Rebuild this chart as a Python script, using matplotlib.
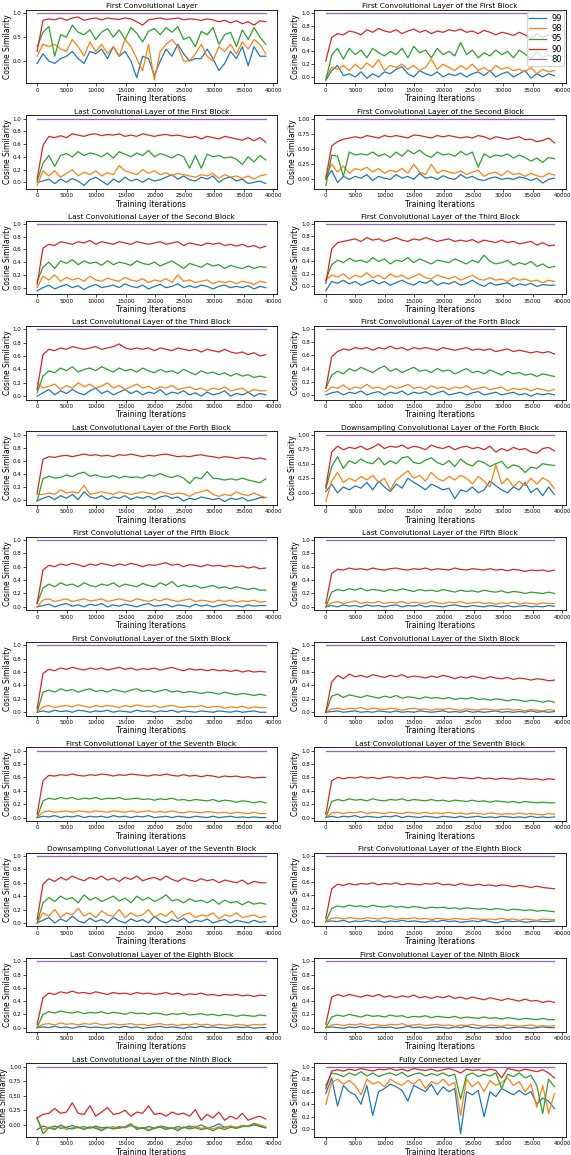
import numpy as np
import matplotlib
matplotlib.use("Agg")
import matplotlib.pyplot as plt
from matplotlib.ticker import MultipleLocator

# training iterations at which similarity was logged
iters = np.linspace(0, 38700, 40)
levels = ["99", "98", "95", "90", "80"]
level_colors = ["#1f77b4", "#ff7f0e", "#2ca02c", "#d62728", "#9467bd"]

# the 80 threshold sits at 1.0 for every layer
sim_80 = [1.0] * 40

titles = [
    "First Convolutional Layer",
    "First Convolutional Layer of the First Block",
    "Last Convolutional Layer of the First Block",
    "First Convolutional Layer of the Second Block",
    "Last Convolutional Layer of the Second Block",
    "First Convolutional Layer of the Third Block",
    "Last Convolutional Layer of the Third Block",
    "First Convolutional Layer of the Forth Block",
    "Last Convolutional Layer of the Forth Block",
    "Downsampling Convolutional Layer of the Forth Block",
    "First Convolutional Layer of the Fifth Block",
    "Last Convolutional Layer of the Fifth Block",
    "First Convolutional Layer of the Sixth Block",
    "Last Convolutional Layer of the Sixth Block",
    "First Convolutional Layer of the Seventh Block",
    "Last Convolutional Layer of the Seventh Block",
    "Downsampling Convolutional Layer of the Seventh Block",
    "First Convolutional Layer of the Eighth Block",
    "Last Convolutional Layer of the Eighth Block",
    "First Convolutional Layer of the Ninth Block",
    "Last Convolutional Layer of the Ninth Block",
    "Fully Connected Layer",
]
# y tick spacing shown on each panel
ytick_steps = [0.5, 0.2, 0.2, 0.25, 0.2, 0.2, 0.2, 0.2, 0.2, 0.25, 0.2,
               0.2, 0.2, 0.2, 0.2, 0.2, 0.2, 0.2, 0.2, 0.2, 0.25, 0.2]

# ---- per layer: 99 / 98 / 95 / 90 ----
p01_99 = [-0.05, 0.15, 0.0, -0.05, 0.05, 0.1, 0.2, 0.05, -0.05, 0.2, 0.15, 0.25, 0.05, 0.3, 0.1, 0.2, 0.0, -0.35, 0.1, 0.05, -0.3, 0.0, 0.25, 0.1, 0.35, 0.15, 0.0, 0.05, 0.05, 0.25, 0.05, -0.2, -0.05, 0.2, 0.05, 0.3, -0.1, 0.3, 0.1, 0.1]
p01_98 = [0.1, 0.35, 0.3, 0.35, 0.25, 0.2, 0.45, 0.3, 0.1, 0.4, 0.2, 0.35, 0.15, 0.3, 0.1, 0.45, 0.3, 0.05, -0.2, 0.35, -0.4, 0.2, 0.35, 0.45, 0.3, 0.0, 0.0, 0.15, 0.35, 0.1, 0.0, 0.3, 0.2, 0.35, 0.15, 0.4, 0.25, 0.45, 0.35, 0.15]
p01_95 = [0.3, 0.6, 0.72, 0.1, 0.55, 0.5, 0.75, 0.6, 0.55, 0.65, 0.45, 0.6, 0.68, 0.5, 0.65, 0.45, 0.7, 0.58, 0.4, 0.62, 0.68, 0.55, 0.7, 0.6, 0.72, 0.45, 0.5, 0.3, 0.62, 0.55, 0.7, 0.35, 0.55, 0.6, 0.3, 0.65, 0.45, 0.7, 0.5, 0.35]
p01_90 = [0.2, 0.85, 0.88, 0.86, 0.9, 0.85, 0.9, 0.92, 0.85, 0.88, 0.9, 0.86, 0.9, 0.88, 0.87, 0.9, 0.88, 0.82, 0.75, 0.86, 0.88, 0.9, 0.87, 0.88, 0.9, 0.86, 0.88, 0.87, 0.85, 0.88, 0.86, 0.82, 0.85, 0.8, 0.84, 0.78, 0.82, 0.75, 0.84, 0.82]

p02_99 = [-0.05, 0.1, 0.18, 0.02, 0.05, 0.0, 0.08, -0.02, 0.05, 0.0, 0.08, 0.05, 0.12, 0.16, 0.05, 0.0, 0.1, 0.05, 0.02, 0.08, 0.0, 0.05, 0.02, 0.06, 0.0, 0.05, 0.08, 0.02, 0.1, 0.0, 0.05, 0.08, 0.0, 0.05, 0.1, -0.02, 0.05, 0.0, 0.05, 0.02]
p02_98 = [0.0, 0.15, 0.12, 0.18, 0.1, 0.2, 0.12, 0.22, 0.15, 0.27, 0.1, 0.18, 0.15, 0.2, 0.12, 0.18, 0.1, 0.15, 0.28, 0.12, 0.2, 0.15, 0.1, 0.18, 0.12, 0.2, 0.1, 0.15, 0.08, 0.18, 0.12, 0.15, 0.1, 0.12, 0.08, 0.15, 0.05, 0.12, 0.08, 0.1]
p02_95 = [-0.05, 0.34, 0.45, 0.28, 0.45, 0.35, 0.42, 0.3, 0.45, 0.38, 0.33, 0.4, 0.35, 0.45, 0.3, 0.48, 0.38, 0.42, 0.3, 0.45, 0.35, 0.4, 0.33, 0.54, 0.35, 0.42, 0.3, 0.38, 0.33, 0.42, 0.35, 0.4, 0.3, 0.42, 0.36, 0.28, 0.4, 0.3, 0.35, 0.3]
p02_90 = [0.25, 0.62, 0.68, 0.66, 0.72, 0.7, 0.66, 0.74, 0.7, 0.76, 0.72, 0.7, 0.74, 0.68, 0.72, 0.75, 0.7, 0.73, 0.68, 0.72, 0.7, 0.74, 0.72, 0.75, 0.7, 0.72, 0.68, 0.73, 0.7, 0.66, 0.7, 0.68, 0.65, 0.7, 0.66, 0.6, 0.68, 0.62, 0.66, 0.64]

p03_99 = [0.0, 0.02, 0.05, -0.02, 0.05, 0.0, 0.06, 0.02, -0.05, 0.04, 0.08, 0.02, -0.04, 0.05, 0.0, 0.08, 0.02, 0.05, 0.0, 0.06, 0.02, 0.04, 0.08, 0.12, 0.05, 0.1, 0.04, 0.02, 0.08, 0.05, 0.1, 0.0, 0.06, 0.08, 0.02, 0.05, -0.02, 0.0, 0.02, -0.02]
p03_98 = [-0.05, 0.18, 0.1, 0.18, 0.08, 0.14, 0.2, 0.1, 0.16, 0.12, 0.18, 0.1, 0.15, 0.12, 0.26, 0.18, 0.15, 0.12, 0.2, 0.14, 0.18, 0.12, 0.15, 0.1, 0.14, 0.12, 0.1, 0.08, 0.12, 0.1, 0.14, 0.06, 0.12, 0.08, 0.1, 0.06, 0.1, 0.05, 0.1, 0.12]
p03_95 = [0.02, 0.3, 0.42, 0.25, 0.42, 0.45, 0.4, 0.48, 0.42, 0.46, 0.44, 0.4, 0.46, 0.38, 0.48, 0.44, 0.4, 0.46, 0.42, 0.5, 0.4, 0.45, 0.42, 0.38, 0.44, 0.4, 0.22, 0.42, 0.22, 0.44, 0.4, 0.42, 0.38, 0.4, 0.36, 0.28, 0.4, 0.32, 0.42, 0.35]
p03_90 = [0.05, 0.58, 0.72, 0.7, 0.73, 0.7, 0.76, 0.74, 0.72, 0.75, 0.76, 0.73, 0.75, 0.74, 0.76, 0.72, 0.74, 0.72, 0.76, 0.74, 0.72, 0.74, 0.75, 0.73, 0.74, 0.72, 0.7, 0.72, 0.68, 0.72, 0.7, 0.68, 0.72, 0.7, 0.68, 0.66, 0.7, 0.65, 0.7, 0.63]

p04_99 = [0.0, 0.15, -0.05, 0.05, 0.0, 0.05, 0.02, 0.08, -0.02, 0.05, 0.02, 0.0, 0.08, 0.02, 0.05, 0.0, 0.1, 0.02, 0.04, 0.0, 0.06, 0.02, 0.0, 0.08, 0.02, 0.05, 0.0, -0.02, 0.02, 0.04, 0.0, 0.02, 0.0, 0.04, 0.02, -0.02, 0.02, -0.06, 0.0, 0.02]
p04_98 = [0.05, 0.25, 0.12, 0.22, 0.1, 0.18, 0.15, 0.2, 0.12, 0.18, 0.1, 0.15, 0.12, 0.18, 0.1, 0.25, 0.12, 0.08, 0.25, 0.1, 0.15, 0.12, 0.1, 0.14, 0.08, 0.12, 0.15, 0.05, 0.1, 0.12, 0.06, 0.14, 0.08, 0.1, 0.05, 0.1, 0.06, 0.04, 0.1, 0.07]
p04_95 = [-0.1, 0.4, 0.38, 0.05, 0.45, 0.4, 0.42, 0.4, 0.45, 0.38, 0.42, 0.36, 0.45, 0.38, 0.48, 0.42, 0.48, 0.4, 0.36, 0.45, 0.4, 0.42, 0.38, 0.46, 0.4, 0.45, 0.2, 0.42, 0.36, 0.4, 0.38, 0.42, 0.35, 0.4, 0.36, 0.3, 0.35, 0.28, 0.36, 0.34]
p04_90 = [0.02, 0.55, 0.62, 0.66, 0.68, 0.7, 0.68, 0.72, 0.7, 0.68, 0.72, 0.7, 0.72, 0.7, 0.68, 0.73, 0.72, 0.7, 0.68, 0.72, 0.7, 0.72, 0.7, 0.68, 0.7, 0.68, 0.72, 0.7, 0.66, 0.7, 0.68, 0.66, 0.68, 0.7, 0.65, 0.66, 0.62, 0.64, 0.68, 0.6]

p05_99 = [-0.05, 0.0, 0.04, -0.02, 0.02, 0.05, 0.0, 0.03, -0.03, 0.02, 0.05, 0.0, 0.02, 0.04, 0.0, 0.06, 0.02, 0.0, 0.04, -0.02, 0.02, 0.05, 0.0, 0.02, 0.06, 0.0, 0.03, 0.0, 0.04, 0.02, -0.02, 0.02, 0.04, 0.0, 0.02, 0.0, 0.03, -0.02, 0.02, 0.0]
p05_98 = [0.0, 0.18, 0.12, 0.2, 0.1, 0.16, 0.12, 0.15, 0.1, 0.18, 0.12, 0.1, 0.15, 0.12, 0.1, 0.16, 0.12, 0.1, 0.14, 0.08, 0.12, 0.1, 0.14, 0.08, 0.2, 0.1, 0.12, 0.08, 0.1, 0.12, 0.06, 0.1, 0.08, 0.1, 0.06, 0.1, 0.08, 0.05, 0.1, 0.08]
p05_95 = [0.1, 0.32, 0.4, 0.3, 0.42, 0.38, 0.44, 0.36, 0.42, 0.38, 0.4, 0.35, 0.42, 0.36, 0.4, 0.38, 0.35, 0.42, 0.38, 0.36, 0.4, 0.34, 0.38, 0.42, 0.36, 0.3, 0.38, 0.35, 0.32, 0.38, 0.34, 0.36, 0.3, 0.35, 0.32, 0.3, 0.34, 0.3, 0.33, 0.32]
p05_90 = [0.05, 0.62, 0.68, 0.66, 0.72, 0.7, 0.68, 0.72, 0.7, 0.74, 0.68, 0.72, 0.7, 0.68, 0.72, 0.7, 0.68, 0.72, 0.7, 0.68, 0.7, 0.72, 0.68, 0.7, 0.72, 0.66, 0.7, 0.68, 0.66, 0.7, 0.68, 0.7, 0.66, 0.68, 0.65, 0.68, 0.64, 0.66, 0.62, 0.65]

p06_99 = [-0.07, 0.08, 0.05, 0.1, 0.04, 0.08, 0.02, 0.06, 0.1, 0.04, 0.08, 0.02, 0.06, 0.1, 0.05, 0.02, 0.08, 0.05, 0.1, 0.02, 0.06, 0.04, 0.08, 0.02, 0.05, 0.1, 0.04, 0.0, 0.06, 0.02, 0.04, 0.06, 0.0, 0.04, 0.02, 0.05, 0.0, 0.03, 0.02, 0.02]
p06_98 = [0.1, 0.18, 0.15, 0.2, 0.12, 0.18, 0.15, 0.22, 0.14, 0.18, 0.12, 0.2, 0.15, 0.18, 0.12, 0.16, 0.2, 0.14, 0.12, 0.18, 0.15, 0.12, 0.16, 0.1, 0.14, 0.18, 0.12, 0.1, 0.14, 0.1, 0.12, 0.08, 0.14, 0.1, 0.12, 0.08, 0.1, 0.06, 0.1, 0.08]
p06_95 = [0.1, 0.35, 0.42, 0.38, 0.45, 0.4, 0.42, 0.38, 0.46, 0.4, 0.44, 0.36, 0.42, 0.4, 0.46, 0.38, 0.44, 0.4, 0.36, 0.42, 0.4, 0.38, 0.44, 0.4, 0.36, 0.42, 0.38, 0.5, 0.4, 0.36, 0.38, 0.42, 0.34, 0.38, 0.35, 0.4, 0.32, 0.36, 0.3, 0.32]
p06_90 = [0.05, 0.6, 0.7, 0.72, 0.74, 0.76, 0.72, 0.78, 0.74, 0.76, 0.72, 0.75, 0.78, 0.74, 0.72, 0.76, 0.74, 0.78, 0.75, 0.72, 0.74, 0.76, 0.72, 0.74, 0.72, 0.75, 0.7, 0.74, 0.72, 0.7, 0.74, 0.7, 0.72, 0.68, 0.7, 0.72, 0.66, 0.7, 0.65, 0.66]

p07_99 = [0.0, 0.05, 0.1, 0.02, 0.08, 0.04, 0.1, 0.05, 0.02, 0.08, 0.12, 0.04, 0.08, 0.02, 0.06, 0.1, 0.04, 0.08, 0.02, 0.06, 0.04, 0.1, 0.02, 0.06, 0.04, 0.08, 0.02, 0.05, 0.0, 0.06, 0.02, 0.04, 0.08, 0.0, 0.04, 0.02, 0.06, 0.0, 0.04, 0.02]
p07_98 = [0.2, 0.12, 0.15, 0.18, 0.1, 0.16, 0.12, 0.2, 0.14, 0.18, 0.12, 0.15, 0.2, 0.12, 0.16, 0.1, 0.14, 0.18, 0.12, 0.15, 0.1, 0.14, 0.12, 0.16, 0.1, 0.12, 0.14, 0.1, 0.12, 0.08, 0.12, 0.1, 0.14, 0.08, 0.1, 0.12, 0.06, 0.1, 0.08, 0.08]
p07_95 = [0.05, 0.3, 0.38, 0.35, 0.42, 0.38, 0.44, 0.36, 0.4, 0.42, 0.38, 0.44, 0.4, 0.36, 0.42, 0.38, 0.4, 0.36, 0.42, 0.38, 0.35, 0.4, 0.36, 0.38, 0.34, 0.4, 0.36, 0.32, 0.38, 0.34, 0.36, 0.32, 0.35, 0.3, 0.34, 0.3, 0.32, 0.28, 0.3, 0.28]
p07_90 = [0.1, 0.62, 0.7, 0.68, 0.72, 0.7, 0.74, 0.72, 0.7, 0.72, 0.74, 0.7, 0.72, 0.74, 0.78, 0.72, 0.7, 0.72, 0.7, 0.72, 0.68, 0.72, 0.7, 0.68, 0.72, 0.7, 0.68, 0.7, 0.66, 0.7, 0.68, 0.66, 0.7, 0.66, 0.64, 0.66, 0.62, 0.65, 0.6, 0.62]

p08_99 = [0.0, 0.03, 0.05, 0.0, 0.04, 0.02, 0.06, 0.0, 0.03, 0.05, 0.0, 0.04, 0.02, 0.06, 0.0, 0.04, 0.02, 0.05, 0.0, 0.03, 0.06, 0.0, 0.02, 0.04, 0.0, 0.03, 0.05, 0.0, 0.02, 0.04, 0.0, 0.02, 0.04, 0.0, 0.02, -0.02, 0.02, 0.0, 0.02, 0.0]
p08_98 = [0.05, 0.12, 0.1, 0.15, 0.08, 0.12, 0.1, 0.16, 0.1, 0.12, 0.08, 0.14, 0.1, 0.12, 0.16, 0.1, 0.12, 0.08, 0.14, 0.1, 0.12, 0.08, 0.12, 0.1, 0.14, 0.08, 0.1, 0.12, 0.08, 0.1, 0.12, 0.06, 0.1, 0.08, 0.1, 0.06, 0.1, 0.08, 0.06, 0.08]
p08_95 = [0.1, 0.3, 0.36, 0.32, 0.4, 0.36, 0.42, 0.38, 0.34, 0.4, 0.44, 0.36, 0.4, 0.34, 0.38, 0.42, 0.36, 0.38, 0.34, 0.4, 0.36, 0.38, 0.32, 0.36, 0.4, 0.34, 0.36, 0.32, 0.38, 0.34, 0.3, 0.36, 0.32, 0.34, 0.3, 0.32, 0.28, 0.32, 0.3, 0.28]
p08_90 = [0.1, 0.58, 0.66, 0.7, 0.68, 0.72, 0.7, 0.72, 0.68, 0.72, 0.7, 0.74, 0.7, 0.72, 0.68, 0.72, 0.7, 0.72, 0.7, 0.68, 0.72, 0.7, 0.68, 0.7, 0.72, 0.68, 0.7, 0.68, 0.7, 0.66, 0.68, 0.7, 0.66, 0.68, 0.66, 0.64, 0.66, 0.64, 0.66, 0.62]

p09_99 = [-0.02, 0.02, 0.05, 0.0, 0.06, 0.02, 0.08, 0.0, 0.12, 0.04, 0.02, 0.06, 0.0, 0.04, 0.02, 0.06, 0.0, 0.04, 0.02, 0.05, 0.0, 0.04, 0.06, 0.02, 0.04, -0.02, 0.02, 0.0, 0.04, 0.02, 0.0, 0.02, -0.03, 0.02, 0.0, 0.03, -0.02, 0.0, 0.03, 0.03]
p09_98 = [0.08, 0.08, 0.1, 0.08, 0.15, 0.1, 0.12, 0.1, 0.22, 0.08, 0.1, 0.12, 0.1, 0.08, 0.12, 0.1, 0.08, 0.1, 0.12, 0.1, 0.08, 0.12, 0.1, 0.08, 0.1, 0.09, 0.05, 0.1, 0.12, 0.15, 0.08, 0.05, 0.08, 0.06, 0.12, 0.08, 0.06, 0.1, 0.06, 0.03]
p09_95 = [-0.02, 0.32, 0.36, 0.33, 0.34, 0.38, 0.35, 0.4, 0.42, 0.36, 0.38, 0.35, 0.34, 0.37, 0.33, 0.36, 0.34, 0.35, 0.33, 0.38, 0.36, 0.4, 0.36, 0.34, 0.37, 0.33, 0.25, 0.34, 0.32, 0.43, 0.33, 0.32, 0.3, 0.32, 0.3, 0.33, 0.3, 0.28, 0.26, 0.32]
p09_90 = [0.1, 0.62, 0.66, 0.65, 0.67, 0.68, 0.66, 0.68, 0.7, 0.68, 0.69, 0.67, 0.68, 0.66, 0.69, 0.68, 0.7, 0.68, 0.66, 0.68, 0.67, 0.69, 0.7, 0.68, 0.66, 0.67, 0.66, 0.68, 0.69, 0.67, 0.66, 0.64, 0.66, 0.65, 0.63, 0.65, 0.64, 0.62, 0.64, 0.62]

p10_99 = [0.02, 0.15, 0.0, 0.1, 0.05, 0.12, 0.08, 0.18, 0.05, 0.2, 0.1, 0.02, 0.15, 0.08, 0.25, 0.18, 0.12, 0.05, 0.15, 0.1, 0.05, 0.08, -0.1, 0.05, 0.02, 0.1, 0.0, 0.05, 0.2, 0.12, 0.05, 0.0, 0.1, 0.05, 0.18, 0.0, 0.08, -0.05, 0.1, -0.03]
p10_98 = [-0.15, 0.2, 0.35, 0.18, 0.25, 0.2, 0.28, 0.22, 0.3, 0.18, 0.25, 0.05, 0.22, 0.3, 0.38, 0.25, 0.3, 0.2, 0.35, 0.25, 0.2, 0.28, 0.22, 0.3, 0.25, 0.15, 0.28, 0.2, 0.1, 0.48, 0.15, 0.25, 0.1, 0.2, 0.12, 0.25, 0.15, 0.26, 0.2, 0.07]
p10_95 = [0.07, 0.45, 0.62, 0.42, 0.55, 0.5, 0.58, 0.52, 0.5, 0.6, 0.48, 0.55, 0.5, 0.6, 0.62, 0.52, 0.5, 0.56, 0.6, 0.52, 0.48, 0.55, 0.45, 0.58, 0.5, 0.46, 0.55, 0.52, 0.45, 0.5, 0.54, 0.42, 0.48, 0.45, 0.35, 0.44, 0.42, 0.5, 0.48, 0.47]
p10_90 = [0.1, 0.7, 0.8, 0.74, 0.78, 0.76, 0.8, 0.74, 0.78, 0.84, 0.76, 0.8, 0.78, 0.82, 0.76, 0.8, 0.78, 0.74, 0.82, 0.78, 0.76, 0.8, 0.74, 0.78, 0.8, 0.76, 0.78, 0.74, 0.8, 0.7, 0.76, 0.72, 0.78, 0.74, 0.76, 0.7, 0.68, 0.76, 0.78, 0.72]

p11_99 = [0.0, 0.02, 0.04, 0.0, 0.03, 0.05, 0.01, 0.03, 0.0, 0.04, 0.02, 0.05, 0.0, 0.03, 0.01, 0.04, 0.02, 0.0, 0.03, 0.05, 0.01, 0.02, 0.04, 0.0, 0.03, 0.02, 0.0, 0.04, 0.01, 0.03, 0.0, 0.02, 0.04, 0.01, 0.02, 0.0, 0.03, 0.01, 0.02, 0.02]
p11_98 = [0.0, 0.1, 0.12, 0.08, 0.1, 0.12, 0.08, 0.1, 0.12, 0.09, 0.1, 0.12, 0.08, 0.1, 0.12, 0.1, 0.08, 0.12, 0.1, 0.08, 0.11, 0.09, 0.12, 0.1, 0.08, 0.1, 0.12, 0.08, 0.1, 0.09, 0.07, 0.1, 0.08, 0.1, 0.07, 0.09, 0.08, 0.1, 0.07, 0.08]
p11_95 = [0.05, 0.28, 0.34, 0.3, 0.36, 0.32, 0.34, 0.3, 0.36, 0.32, 0.3, 0.34, 0.32, 0.36, 0.3, 0.34, 0.32, 0.3, 0.35, 0.32, 0.3, 0.36, 0.32, 0.38, 0.3, 0.33, 0.3, 0.32, 0.28, 0.3, 0.32, 0.28, 0.3, 0.27, 0.3, 0.28, 0.26, 0.28, 0.25, 0.25]
p11_90 = [0.05, 0.55, 0.62, 0.6, 0.64, 0.62, 0.65, 0.63, 0.6, 0.64, 0.62, 0.65, 0.63, 0.61, 0.64, 0.62, 0.65, 0.63, 0.6, 0.63, 0.62, 0.64, 0.66, 0.62, 0.64, 0.6, 0.63, 0.62, 0.6, 0.63, 0.61, 0.62, 0.6, 0.62, 0.6, 0.61, 0.58, 0.6, 0.57, 0.58]

p12_99 = [0.0, 0.02, 0.0, 0.03, 0.01, 0.02, 0.0, 0.03, 0.01, 0.02, 0.0, 0.02, 0.03, 0.0, 0.02, 0.01, 0.03, 0.0, 0.02, 0.01, 0.0, 0.02, 0.03, 0.01, 0.0, 0.02, 0.01, 0.0, 0.02, 0.01, 0.0, 0.02, 0.0, 0.01, 0.02, 0.0, 0.01, 0.0, 0.02, 0.01]
p12_98 = [0.0, 0.06, 0.08, 0.05, 0.07, 0.09, 0.05, 0.07, 0.06, 0.08, 0.05, 0.07, 0.06, 0.08, 0.05, 0.07, 0.06, 0.05, 0.08, 0.06, 0.05, 0.07, 0.06, 0.08, 0.05, 0.06, 0.07, 0.05, 0.06, 0.04, 0.06, 0.05, 0.07, 0.04, 0.06, 0.05, 0.04, 0.06, 0.05, 0.05]
p12_95 = [0.0, 0.22, 0.26, 0.24, 0.27, 0.25, 0.28, 0.24, 0.26, 0.25, 0.23, 0.26, 0.24, 0.27, 0.25, 0.23, 0.26, 0.24, 0.25, 0.23, 0.26, 0.24, 0.22, 0.25, 0.23, 0.24, 0.22, 0.25, 0.23, 0.22, 0.24, 0.21, 0.23, 0.22, 0.2, 0.22, 0.21, 0.2, 0.22, 0.2]
p12_90 = [0.05, 0.5, 0.56, 0.55, 0.58, 0.56, 0.57, 0.55, 0.58, 0.56, 0.55, 0.57, 0.58, 0.56, 0.55, 0.57, 0.56, 0.58, 0.55, 0.57, 0.56, 0.55, 0.58, 0.56, 0.55, 0.57, 0.56, 0.55, 0.57, 0.55, 0.56, 0.54, 0.56, 0.55, 0.53, 0.55, 0.54, 0.55, 0.53, 0.55]

p13_99 = [0.0, 0.02, 0.0, 0.03, 0.01, 0.02, 0.0, 0.03, 0.02, 0.0, 0.02, 0.01, 0.03, 0.0, 0.02, 0.01, 0.0, 0.03, 0.01, 0.02, 0.0, 0.02, 0.01, 0.03, 0.0, 0.02, 0.01, 0.0, 0.02, 0.01, 0.0, 0.02, 0.01, 0.0, 0.02, 0.0, 0.01, 0.02, 0.0, 0.0]
p13_98 = [0.0, 0.08, 0.1, 0.07, 0.09, 0.1, 0.08, 0.11, 0.09, 0.07, 0.1, 0.08, 0.1, 0.09, 0.07, 0.1, 0.08, 0.11, 0.09, 0.08, 0.1, 0.07, 0.09, 0.1, 0.08, 0.07, 0.09, 0.08, 0.1, 0.07, 0.08, 0.09, 0.06, 0.08, 0.07, 0.09, 0.06, 0.08, 0.07, 0.07]
p13_95 = [0.0, 0.3, 0.33, 0.3, 0.35, 0.32, 0.34, 0.3, 0.33, 0.35, 0.31, 0.33, 0.3, 0.34, 0.32, 0.3, 0.33, 0.35, 0.31, 0.33, 0.3, 0.32, 0.34, 0.3, 0.32, 0.29, 0.31, 0.3, 0.28, 0.3, 0.29, 0.27, 0.3, 0.28, 0.26, 0.28, 0.27, 0.25, 0.27, 0.25]
p13_90 = [0.05, 0.58, 0.64, 0.62, 0.66, 0.64, 0.67, 0.65, 0.63, 0.66, 0.64, 0.66, 0.63, 0.65, 0.67, 0.64, 0.66, 0.63, 0.65, 0.64, 0.66, 0.63, 0.65, 0.67, 0.64, 0.62, 0.65, 0.63, 0.64, 0.62, 0.64, 0.62, 0.63, 0.61, 0.63, 0.6, 0.62, 0.6, 0.61, 0.6]

p14_99 = [0.0, 0.01, 0.02, 0.0, 0.01, 0.02, 0.0, 0.01, 0.0, 0.02, 0.01, 0.0, 0.02, 0.0, 0.01, 0.0, 0.02, 0.01, 0.0, 0.01, 0.02, 0.0, 0.01, 0.0, 0.02, 0.0, 0.01, 0.0, 0.01, 0.02, 0.0, 0.01, 0.0, 0.01, 0.0, 0.02, 0.0, 0.01, 0.0, 0.01]
p14_98 = [0.0, 0.05, 0.06, 0.04, 0.06, 0.05, 0.07, 0.04, 0.06, 0.05, 0.04, 0.06, 0.05, 0.03, 0.05, 0.06, 0.04, 0.05, 0.03, 0.05, 0.04, 0.06, 0.04, 0.03, 0.05, 0.04, 0.03, 0.05, 0.04, 0.03, 0.04, 0.05, 0.03, 0.04, 0.02, 0.04, 0.03, 0.02, 0.04, 0.03]
p14_95 = [0.0, 0.24, 0.27, 0.22, 0.26, 0.24, 0.22, 0.25, 0.23, 0.21, 0.24, 0.22, 0.25, 0.21, 0.23, 0.22, 0.2, 0.23, 0.21, 0.22, 0.2, 0.22, 0.19, 0.21, 0.2, 0.22, 0.19, 0.2, 0.18, 0.2, 0.19, 0.17, 0.19, 0.18, 0.16, 0.18, 0.17, 0.15, 0.17, 0.15]
p14_90 = [0.0, 0.45, 0.55, 0.5, 0.57, 0.53, 0.55, 0.52, 0.56, 0.54, 0.52, 0.55, 0.53, 0.56, 0.52, 0.54, 0.53, 0.51, 0.54, 0.52, 0.55, 0.53, 0.5, 0.53, 0.51, 0.54, 0.52, 0.5, 0.53, 0.51, 0.5, 0.52, 0.49, 0.51, 0.5, 0.48, 0.5, 0.49, 0.47, 0.48]

p15_99 = [0.0, 0.02, 0.01, 0.03, 0.0, 0.02, 0.01, 0.03, 0.0, 0.02, 0.01, 0.02, 0.0, 0.03, 0.01, 0.02, 0.0, 0.02, 0.01, 0.03, 0.0, 0.01, 0.02, 0.0, 0.02, 0.01, 0.0, 0.02, 0.01, 0.0, 0.02, 0.0, 0.01, 0.02, 0.0, 0.01, 0.0, 0.01, 0.0, 0.0]
p15_98 = [0.0, 0.08, 0.1, 0.08, 0.09, 0.1, 0.08, 0.1, 0.09, 0.08, 0.1, 0.09, 0.08, 0.1, 0.09, 0.08, 0.1, 0.08, 0.09, 0.1, 0.08, 0.09, 0.08, 0.1, 0.08, 0.07, 0.09, 0.08, 0.07, 0.09, 0.08, 0.07, 0.08, 0.06, 0.08, 0.07, 0.06, 0.08, 0.06, 0.06]
p15_95 = [0.0, 0.25, 0.29, 0.27, 0.3, 0.28, 0.3, 0.27, 0.29, 0.28, 0.3, 0.27, 0.29, 0.28, 0.3, 0.27, 0.28, 0.29, 0.27, 0.28, 0.26, 0.28, 0.27, 0.29, 0.26, 0.27, 0.25, 0.27, 0.26, 0.25, 0.27, 0.24, 0.26, 0.25, 0.23, 0.25, 0.24, 0.22, 0.24, 0.22]
p15_90 = [0.05, 0.55, 0.63, 0.62, 0.64, 0.63, 0.65, 0.63, 0.62, 0.64, 0.63, 0.65, 0.64, 0.62, 0.64, 0.63, 0.65, 0.64, 0.63, 0.62, 0.64, 0.63, 0.65, 0.63, 0.62, 0.64, 0.62, 0.63, 0.61, 0.63, 0.62, 0.6, 0.62, 0.61, 0.62, 0.6, 0.61, 0.59, 0.6, 0.6]

p16_99 = [0.0, 0.02, 0.0, 0.02, 0.01, 0.03, 0.0, 0.02, 0.01, 0.0, 0.02, 0.01, 0.03, 0.0, 0.02, 0.01, 0.0, 0.02, 0.01, 0.0, 0.02, 0.01, 0.0, 0.02, 0.0, 0.01, 0.02, 0.0, 0.01, 0.0, 0.02, 0.01, 0.0, 0.01, 0.0, 0.02, 0.0, 0.01, 0.0, 0.01]
p16_98 = [0.0, 0.07, 0.08, 0.06, 0.08, 0.07, 0.09, 0.06, 0.08, 0.07, 0.06, 0.08, 0.07, 0.06, 0.08, 0.07, 0.06, 0.08, 0.06, 0.07, 0.06, 0.08, 0.06, 0.07, 0.05, 0.07, 0.06, 0.05, 0.07, 0.06, 0.05, 0.06, 0.05, 0.07, 0.05, 0.06, 0.05, 0.04, 0.06, 0.05]
p16_95 = [0.0, 0.24, 0.27, 0.25, 0.28, 0.26, 0.27, 0.25, 0.28, 0.26, 0.25, 0.27, 0.26, 0.28, 0.25, 0.27, 0.26, 0.25, 0.27, 0.25, 0.26, 0.24, 0.26, 0.25, 0.24, 0.26, 0.24, 0.25, 0.23, 0.25, 0.24, 0.23, 0.24, 0.22, 0.24, 0.23, 0.22, 0.23, 0.22, 0.22]
p16_90 = [0.05, 0.55, 0.6, 0.58, 0.6, 0.59, 0.61, 0.59, 0.6, 0.58, 0.6, 0.61, 0.59, 0.6, 0.58, 0.6, 0.59, 0.61, 0.6, 0.58, 0.6, 0.59, 0.58, 0.6, 0.59, 0.58, 0.6, 0.58, 0.59, 0.57, 0.59, 0.58, 0.57, 0.59, 0.58, 0.57, 0.58, 0.56, 0.58, 0.57]

p17_99 = [0.0, 0.04, 0.08, 0.0, 0.06, 0.02, 0.1, 0.03, 0.0, 0.07, 0.02, 0.05, 0.0, 0.08, 0.03, 0.0, 0.06, 0.02, 0.05, 0.0, 0.1, 0.03, 0.0, 0.05, 0.02, 0.07, 0.0, 0.04, 0.02, 0.06, 0.0, 0.03, 0.05, 0.0, 0.04, 0.02, 0.0, 0.04, 0.01, 0.02]
p17_98 = [0.0, 0.15, 0.1, 0.2, 0.08, 0.15, 0.12, 0.22, 0.1, 0.15, 0.08, 0.18, 0.12, 0.1, 0.2, 0.08, 0.15, 0.1, 0.12, 0.2, 0.08, 0.14, 0.1, 0.18, 0.06, 0.12, 0.15, 0.08, 0.12, 0.1, 0.15, 0.06, 0.12, 0.1, 0.15, 0.08, 0.1, 0.12, 0.08, 0.1]
p17_95 = [0.0, 0.3, 0.38, 0.32, 0.4, 0.35, 0.38, 0.3, 0.42, 0.34, 0.38, 0.32, 0.36, 0.4, 0.33, 0.37, 0.3, 0.4, 0.34, 0.38, 0.32, 0.36, 0.42, 0.33, 0.35, 0.3, 0.36, 0.32, 0.34, 0.3, 0.35, 0.28, 0.34, 0.3, 0.32, 0.27, 0.32, 0.28, 0.3, 0.28]
p17_90 = [0.05, 0.58, 0.66, 0.62, 0.68, 0.64, 0.7, 0.66, 0.63, 0.68, 0.65, 0.7, 0.64, 0.67, 0.62, 0.68, 0.65, 0.7, 0.63, 0.66, 0.68, 0.64, 0.7, 0.65, 0.62, 0.67, 0.64, 0.62, 0.66, 0.63, 0.65, 0.6, 0.64, 0.62, 0.6, 0.64, 0.58, 0.62, 0.6, 0.6]

p18_99 = [0.0, 0.01, 0.0, 0.02, -0.01, 0.01, 0.0, 0.02, 0.0, 0.01, -0.01, 0.01, 0.0, 0.02, 0.0, 0.01, 0.0, -0.01, 0.01, 0.0, 0.02, 0.0, 0.01, -0.01, 0.0, 0.01, 0.0, 0.02, 0.0, -0.02, 0.0, 0.01, 0.0, 0.01, -0.01, 0.0, 0.01, 0.0, 0.0, 0.01]
p18_98 = [0.0, 0.05, 0.06, 0.04, 0.06, 0.05, 0.04, 0.06, 0.05, 0.04, 0.06, 0.05, 0.03, 0.05, 0.04, 0.06, 0.04, 0.05, 0.03, 0.05, 0.04, 0.03, 0.05, 0.04, 0.03, 0.05, 0.04, 0.03, 0.04, 0.03, 0.05, 0.03, 0.04, 0.02, 0.04, 0.03, 0.02, 0.04, 0.03, 0.03]
p18_95 = [0.0, 0.2, 0.24, 0.22, 0.25, 0.23, 0.24, 0.22, 0.25, 0.23, 0.22, 0.24, 0.22, 0.23, 0.21, 0.23, 0.22, 0.2, 0.22, 0.21, 0.22, 0.2, 0.21, 0.19, 0.21, 0.2, 0.19, 0.2, 0.18, 0.2, 0.19, 0.17, 0.19, 0.18, 0.17, 0.18, 0.16, 0.17, 0.16, 0.15]
p18_90 = [0.05, 0.5, 0.57, 0.55, 0.58, 0.56, 0.58, 0.57, 0.59, 0.56, 0.58, 0.57, 0.59, 0.56, 0.58, 0.57, 0.56, 0.58, 0.57, 0.59, 0.56, 0.57, 0.55, 0.58, 0.56, 0.55, 0.57, 0.55, 0.56, 0.54, 0.56, 0.55, 0.53, 0.55, 0.54, 0.52, 0.54, 0.52, 0.51, 0.5]

p19_99 = [0.0, 0.01, 0.0, 0.02, 0.0, 0.01, -0.01, 0.01, 0.02, 0.0, 0.01, 0.0, -0.01, 0.01, 0.0, 0.02, 0.0, 0.01, -0.01, 0.0, 0.01, 0.02, 0.0, 0.01, 0.0, -0.01, 0.01, 0.0, 0.02, 0.0, 0.01, 0.0, -0.01, 0.0, 0.01, 0.0, 0.01, -0.01, 0.0, 0.0]
p19_98 = [0.0, 0.05, 0.06, 0.04, 0.07, 0.05, 0.06, 0.04, 0.06, 0.05, 0.07, 0.04, 0.05, 0.06, 0.04, 0.05, 0.06, 0.04, 0.05, 0.03, 0.05, 0.06, 0.04, 0.05, 0.03, 0.05, 0.04, 0.06, 0.04, 0.05, 0.03, 0.05, 0.04, 0.03, 0.05, 0.04, 0.03, 0.05, 0.04, 0.05]
p19_95 = [0.0, 0.2, 0.24, 0.22, 0.25, 0.23, 0.22, 0.24, 0.21, 0.23, 0.22, 0.24, 0.21, 0.23, 0.22, 0.2, 0.23, 0.21, 0.22, 0.2, 0.22, 0.21, 0.19, 0.21, 0.2, 0.22, 0.19, 0.2, 0.21, 0.19, 0.2, 0.18, 0.2, 0.19, 0.17, 0.19, 0.18, 0.17, 0.19, 0.18]
p19_90 = [0.05, 0.45, 0.52, 0.5, 0.54, 0.52, 0.55, 0.52, 0.53, 0.51, 0.54, 0.52, 0.5, 0.53, 0.51, 0.52, 0.5, 0.53, 0.51, 0.52, 0.5, 0.51, 0.53, 0.5, 0.52, 0.49, 0.51, 0.5, 0.52, 0.49, 0.5, 0.48, 0.5, 0.49, 0.5, 0.48, 0.49, 0.47, 0.49, 0.48]

p20_99 = [0.0, 0.01, 0.0, -0.01, 0.01, 0.0, 0.02, 0.0, -0.01, 0.01, 0.0, 0.01, -0.01, 0.0, 0.02, 0.0, 0.01, -0.01, 0.0, 0.01, 0.0, -0.01, 0.01, 0.0, 0.02, 0.0, -0.01, 0.01, 0.0, 0.0, 0.01, -0.01, 0.0, 0.01, 0.0, -0.01, 0.0, 0.01, 0.0, 0.0]
p20_98 = [0.0, 0.04, 0.05, 0.03, 0.05, 0.04, 0.06, 0.03, 0.05, 0.04, 0.03, 0.05, 0.04, 0.06, 0.03, 0.04, 0.05, 0.03, 0.04, 0.05, 0.03, 0.04, 0.02, 0.04, 0.03, 0.05, 0.03, 0.02, 0.04, 0.03, 0.02, 0.04, 0.03, 0.02, 0.03, 0.04, 0.02, 0.03, 0.02, 0.03]
p20_95 = [0.0, 0.16, 0.19, 0.17, 0.2, 0.18, 0.16, 0.19, 0.17, 0.18, 0.16, 0.19, 0.17, 0.18, 0.15, 0.17, 0.16, 0.18, 0.15, 0.17, 0.16, 0.15, 0.17, 0.14, 0.16, 0.15, 0.14, 0.16, 0.14, 0.15, 0.13, 0.15, 0.14, 0.12, 0.14, 0.13, 0.12, 0.14, 0.12, 0.12]
p20_90 = [0.05, 0.46, 0.5, 0.47, 0.5, 0.48, 0.46, 0.49, 0.47, 0.5, 0.46, 0.48, 0.45, 0.48, 0.46, 0.49, 0.45, 0.47, 0.44, 0.47, 0.45, 0.48, 0.44, 0.46, 0.43, 0.46, 0.44, 0.42, 0.45, 0.43, 0.41, 0.44, 0.42, 0.4, 0.43, 0.4, 0.41, 0.38, 0.4, 0.38]

p21_99 = [-0.08, -0.02, -0.05, -0.02, -0.06, -0.04, -0.01, -0.05, -0.03, -0.06, -0.02, -0.05, -0.04, -0.06, -0.03, -0.05, -0.01, -0.04, -0.06, -0.03, -0.05, -0.02, -0.04, -0.06, -0.03, -0.05, -0.02, -0.04, 0.0, -0.05, -0.03, 0.02, -0.04, -0.02, -0.05, -0.01, -0.03, 0.0, -0.02, -0.05]
p21_98 = [0.1, -0.08, -0.04, -0.06, -0.03, -0.08, -0.05, -0.03, -0.07, -0.05, -0.04, -0.08, -0.05, -0.03, -0.06, -0.04, 0.0, -0.06, -0.04, -0.08, -0.05, -0.03, -0.06, -0.05, -0.07, -0.04, -0.05, -0.02, -0.06, -0.04, -0.07, -0.03, -0.05, -0.02, -0.04, -0.01, -0.03, 0.03, 0.0, -0.03]
p21_95 = [0.12, -0.15, -0.05, -0.08, 0.0, -0.05, -0.07, -0.04, -0.08, -0.03, -0.06, -0.1, -0.04, -0.07, -0.05, -0.03, 0.02, -0.08, -0.05, -0.1, -0.06, -0.04, -0.08, -0.05, -0.1, -0.04, -0.07, -0.05, -0.08, -0.06, -0.1, -0.05, -0.08, -0.04, -0.06, -0.03, -0.02, 0.02, -0.03, -0.05]
p21_90 = [0.12, 0.18, 0.2, 0.28, 0.2, 0.22, 0.38, 0.2, 0.18, 0.33, 0.15, 0.22, 0.3, 0.18, 0.2, 0.25, 0.15, 0.22, 0.2, 0.33, 0.18, 0.2, 0.15, 0.22, 0.18, 0.2, 0.15, 0.26, 0.08, 0.18, 0.12, 0.22, 0.08, 0.15, 0.1, 0.2, 0.08, 0.12, 0.15, 0.1]

p22_99 = [0.57, 0.82, 0.37, 0.7, 0.6, 0.55, 0.4, 0.7, 0.22, 0.6, 0.65, 0.72, 0.68, 0.62, 0.45, 0.7, 0.65, 0.6, 0.72, 0.55, 0.68, 0.6, 0.65, -0.07, 0.6, 0.55, 0.62, 0.2, 0.6, 0.52, 0.65, 0.6, 0.55, 0.62, 0.55, 0.6, 0.4, 0.5, 0.45, 0.33]
p22_98 = [0.4, 0.75, 0.8, 0.72, 0.78, 0.7, 0.55, 0.8, 0.72, 0.76, 0.68, 0.8, 0.74, 0.7, 0.78, 0.72, 0.8, 0.65, 0.76, 0.72, 0.8, 0.7, 0.75, 0.22, 0.8, 0.68, 0.76, 0.6, 0.78, 0.7, 0.75, 0.82, 0.7, 0.76, 0.6, 0.72, 0.35, 0.7, 0.25, 0.57]
p22_95 = [0.7, 0.9, 0.88, 0.84, 0.9, 0.86, 0.92, 0.85, 0.9, 0.84, 0.88, 0.9, 0.86, 0.91, 0.84, 0.88, 0.9, 0.85, 0.89, 0.86, 0.9, 0.85, 0.88, 0.48, 0.86, 0.9, 0.84, 0.88, 0.85, 0.9, 0.65, 0.88, 0.84, 0.9, 0.82, 0.86, 0.7, 0.25, 0.8, 0.68]
p22_90 = [0.65, 0.93, 0.95, 0.93, 0.96, 0.94, 0.97, 0.95, 0.93, 0.96, 0.95, 0.97, 0.94, 0.96, 0.93, 0.97, 0.95, 0.94, 0.96, 0.93, 0.95, 0.97, 0.94, 0.9, 0.96, 0.94, 0.95, 0.93, 0.96, 0.94, 0.82, 0.97, 0.95, 0.93, 0.96, 0.94, 0.92, 0.95, 0.9, 0.82]

panels = [
    (p01_99, p01_98, p01_95, p01_90), (p02_99, p02_98, p02_95, p02_90),
    (p03_99, p03_98, p03_95, p03_90), (p04_99, p04_98, p04_95, p04_90),
    (p05_99, p05_98, p05_95, p05_90), (p06_99, p06_98, p06_95, p06_90),
    (p07_99, p07_98, p07_95, p07_90), (p08_99, p08_98, p08_95, p08_90),
    (p09_99, p09_98, p09_95, p09_90), (p10_99, p10_98, p10_95, p10_90),
    (p11_99, p11_98, p11_95, p11_90), (p12_99, p12_98, p12_95, p12_90),
    (p13_99, p13_98, p13_95, p13_90), (p14_99, p14_98, p14_95, p14_90),
    (p15_99, p15_98, p15_95, p15_90), (p16_99, p16_98, p16_95, p16_90),
    (p17_99, p17_98, p17_95, p17_90), (p18_99, p18_98, p18_95, p18_90),
    (p19_99, p19_98, p19_95, p19_90), (p20_99, p20_98, p20_95, p20_90),
    (p21_99, p21_98, p21_95, p21_90), (p22_99, p22_98, p22_95, p22_90),
]

fig, axes = plt.subplots(11, 2, figsize=(5.71, 11.55), dpi=100)
fig.subplots_adjust(left=0.045, right=0.991, top=0.9915, bottom=0.0156,
                    wspace=0.148, hspace=0.43)

for k, ax in enumerate(axes.flat):
    series = list(panels[k]) + [sim_80]
    for vals, lab, col in zip(series, levels, level_colors):
        ax.plot(iters, vals, color=col, lw=0.9, label=lab)
    ax.set_title(titles[k], fontsize=5.3, pad=1)
    ax.set_xlabel("Training Iterations", fontsize=5.5, labelpad=1)
    ax.set_ylabel("Cosine Similarity", fontsize=5.5, labelpad=0.5)
    ax.set_xticks(np.arange(0, 40001, 5000))
    ax.yaxis.set_major_locator(MultipleLocator(ytick_steps[k]))
    ax.tick_params(labelsize=4, length=2, width=0.5, pad=1.2)
    for sp in ax.spines.values():
        sp.set_linewidth(0.6)
    if k == 1:
        ax.legend(loc="upper right", fontsize=6, handlelength=2,
                  labelspacing=0.15, borderpad=0.3, handletextpad=0.6,
                  borderaxespad=0.2, framealpha=0.8)

fig.savefig("out.png", dpi=100)
